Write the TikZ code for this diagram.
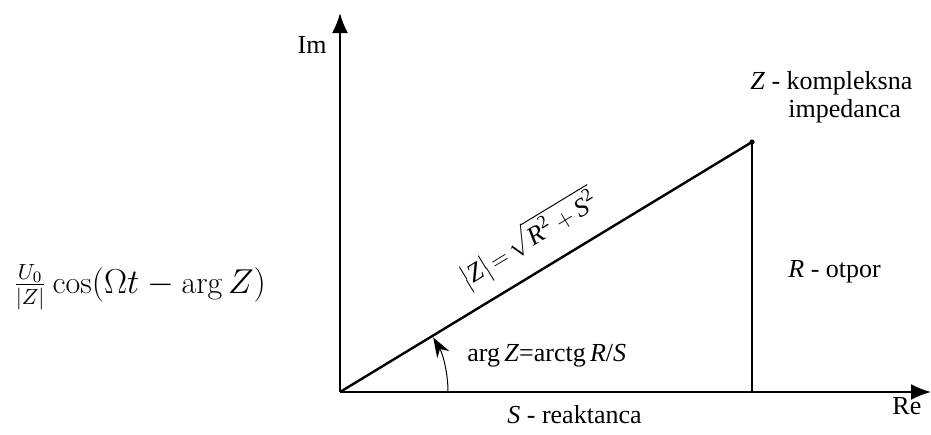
\documentclass[tikz,border=0pt]{standalone}
\usepackage{amsmath}
\usepackage{fontspec}
\usetikzlibrary{positioning, calc, arrows.meta}
\newfontfamily\lsfont{Liberation Serif}

\begin{document}
\begin{tikzpicture}[
  x=0.5pt, y=-0.5pt,
  font=\lsfont\fontsize{13}{14}\selectfont,
  >={Latex[length=10pt,width=8pt]},
]
\useasboundingbox (0,0) rectangle (931,434);

% ---------- axes ----------
\coordinate (O) at (340,392);
\coordinate (imEnd) at (340,13);
\coordinate (reEnd) at (931,392);
\draw[line width=1pt, ->] (O) -- (imEnd);
\draw[line width=1pt, ->] (O) -- (reEnd);
\node[anchor=base east, inner sep=0pt] (imLabel) at (327,53) {Im};
\node[anchor=base west, inner sep=0pt] (reLabel) at (892,414) {Re};

% ---------- impedance vector ----------
\coordinate (zPt) at (752,142);
\coordinate (zFoot) at (752,392);
\draw[line width=1.2pt] (O) -- node[sloped, above=7pt, inner sep=0pt] (modLabel)
  {$\bigl|\textit{Z}\bigr|\!=\!\sqrt{\textit{R}^{\text{2}}+\textit{S}^{\text{2}}}$} (zPt);
\draw[line width=0.6pt] (zPt) -- (zFoot);
\fill (zPt) circle [radius=2.6];

% ---------- angle ----------
\draw[line width=0.5pt, -{Stealth[length=10pt,width=7pt]}]
  ($(O)+(108,0)$) arc [start angle=0, end angle=-30.4, radius=108];

% ---------- labels ----------
\node[anchor=base west, inner sep=0pt] (argLabel) at (467,361)
  {arg\,\textit{Z}=arctg\,\textit{R}/\textit{S}};
\node[anchor=base west, inner sep=0pt] (sLabel) at (507,423) {\textit{S} - reaktanca};
\node[anchor=base west, inner sep=0pt] (rLabel) at (788,277) {\textit{R} - otpor};
\node[anchor=north west, inner sep=0pt, align=left] (zLabel) at (750,71)
  {\textit{Z} - kompleksna\\\hspace*{19pt}impedanca};
\node[anchor=base west, inner sep=0pt, font=\fontsize{16}{19}\selectfont] (uLabel) at (13,293)
  {$\frac{U_0}{|Z|}\cos(\Omega t-\arg Z)$};

\end{tikzpicture}
\end{document}
